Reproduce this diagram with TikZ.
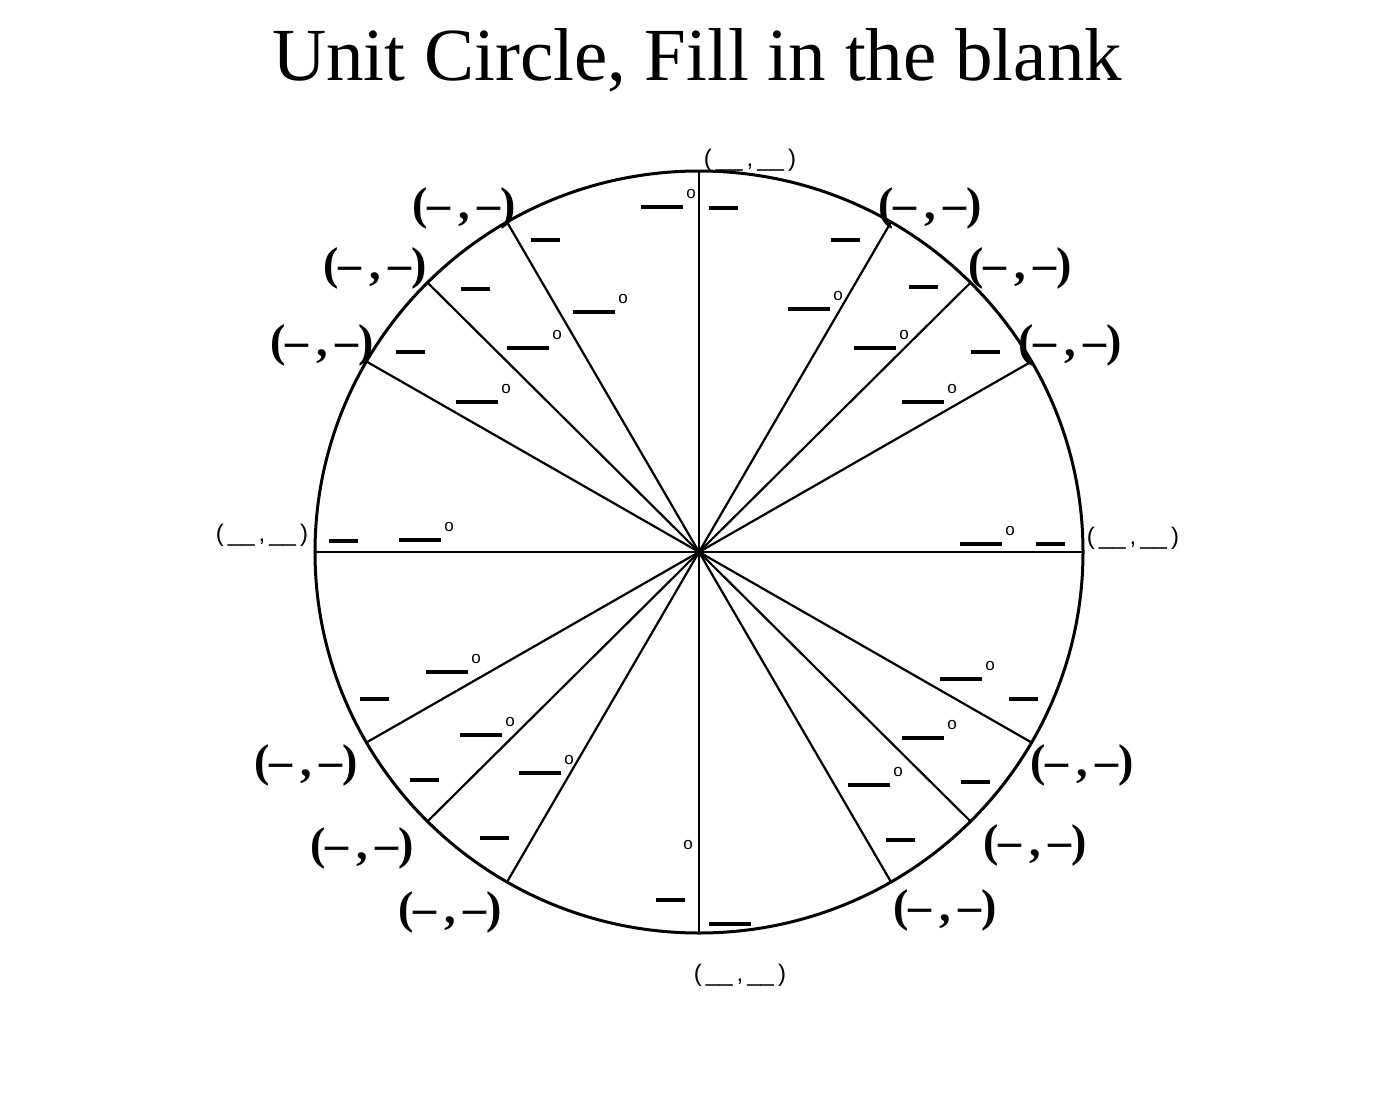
\documentclass[tikz,border=0pt]{standalone}
\usepackage{fontspec}
\setmainfont{Liberation Serif}
\newfontfamily\blankfont{Liberation Sans}
\usepackage{tikz}

\tikzset{
  spoke/.style={line width=2.2pt},
  longbar/.style={fill=black, inner sep=0pt, minimum width=42pt, minimum height=4.5pt},
  degbar/.style={longbar,
    label={[anchor=south west, inner sep=0pt, xshift=3pt, yshift=6pt, font=\blankfont\fontsize{17}{17}\selectfont]north east:o}},
  radbar/.style={fill=black, inner sep=0pt, minimum width=29pt, minimum height=4.5pt},
  pairlbl/.style={font=\bfseries\fontsize{46}{46}\selectfont, inner sep=0pt},
  axislbl/.style={font=\blankfont\fontsize{24}{24}\selectfont, inner sep=0pt}
}

\begin{document}
\begin{tikzpicture}[x=1pt,y=-1pt]
  \useasboundingbox (0,0) rectangle (1400,1100);
  \node (title) at (697,60) {\fontsize{75}{75}\selectfont Unit Circle, Fill in the blank};

  \coordinate (O) at (699,552);
  \draw[line width=3pt] (O) circle[x radius=384, y radius=381];
  \foreach \a in {0,30,45,60,90,120,135,150,180,210,225,240,270,300,315,330}
    \draw[spoke] (O) -- ([shift={(O)}]\a:384 and 381);

  % degree blanks
  \foreach \n/\x/\y in {d90/662/207, d120/594/312, d135/528/348, d150/477/402,
      d180/420/540, d210/447/672, d225/481/735, d240/540/773,
      d60/809/309, d45/875/348, d30/923/402, d0/981/544,
      d330/961/679, d315/923/738, d300/869/785}
    \node[degbar] (\n) at (\x,\y) {};
  \node[font=\blankfont\fontsize{17}{17}\selectfont] (d270o) at (688,845) {o};
  \node[longbar] (d270) at (730,924) {};

  % radian blanks
  \foreach \n/\x/\y in {r90/723/208, r120/545/240, r135/475/289, r150/410/352,
      r180/343/541, r210/374/699, r225/424/780, r240/494/838, r270/670/900,
      r60/845/240, r45/923/287, r30/985/352, r0/1050/544,
      r330/1023/699, r315/975/782, r300/900/840}
    \node[radbar] (\n) at (\x,\y) {};

  % point labels
  \foreach \n/\x/\y in {p120/464/208, p135/375/268, p150/322/345,
      p60/930/208, p45/1020/268, p30/1070/345,
      p210/306/765, p225/362/848, p240/450/912,
      p330/1082/765, p315/1035/845, p300/945/910}
    \node[pairlbl] (\n) at (\x,\y) {(\textendash\,,\,\textendash)};
  \foreach \n/\x/\y in {p90/750/160, p180/262/535, p0/1133/538, p270/740/975}
    \node[axislbl] (\n) at (\x,\y) {(\,\_\_\,,\,\_\_\,)};
\end{tikzpicture}
\end{document}
